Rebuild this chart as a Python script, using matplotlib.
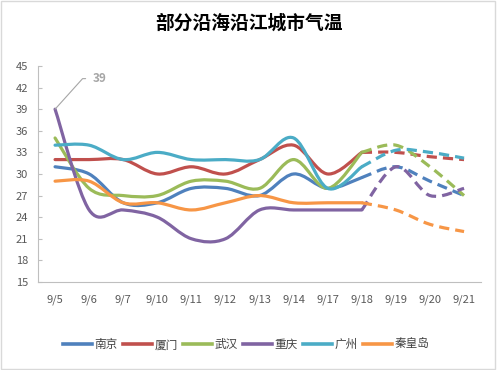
import matplotlib
matplotlib.use("Agg")
import matplotlib.pyplot as plt
from matplotlib.path import Path
from matplotlib.patches import PathPatch, Rectangle
from matplotlib.lines import Line2D

plt.rcParams['font.family'] = ['Noto Sans CJK SC', 'DejaVu Sans']

dates = ['9/5', '9/6', '9/7', '9/10', '9/11', '9/12', '9/13', '9/14',
         '9/17', '9/18', '9/19', '9/20', '9/21']
cities = ['南京', '厦门', '武汉', '重庆', '广州', '秦皇岛']
colors = ['#4F81BD', '#C0504D', '#9BBB59', '#8064A2', '#4BACC6', '#F79646']

# observed 9/5 .. 9/18
nanjing_obs = [31, 30, 26, 26, 28, 28, 27, 30, 28, 29.5]
xiamen_obs = [32, 32, 32, 30, 31, 30, 32, 34, 30, 33]
wuhan_obs = [35, 28, 27, 27, 29, 29, 28, 32, 28, 33]
chongqing_obs = [39, 25, 25, 24, 21, 21, 25, 25, 25, 25]
guangzhou_obs = [34, 34, 32, 33, 32, 32, 32, 35, 28, 31]
qhd_obs = [29, 29, 26, 26, 25, 26, 27, 26, 26, 26]

# forecast 9/18 .. 9/21
nanjing_fc = [29.5, 31, 29, 27]
xiamen_fc = [33, 33, 32.4, 32]
wuhan_fc = [33, 34, 31, 27]
chongqing_fc = [25, 31, 27, 28]
guangzhou_fc = [31, 33.3, 33, 32.2]
qhd_fc = [26, 25, 23, 22]

obs = [nanjing_obs, xiamen_obs, wuhan_obs, chongqing_obs, guangzhou_obs, qhd_obs]
fc = [nanjing_fc, xiamen_fc, wuhan_fc, chongqing_fc, guangzhou_fc, qhd_fc]

yticks = list(range(15, 46, 3))


def smooth_path(xs, ys):
    n = len(xs)
    verts = [(xs[0], ys[0])]
    codes = [Path.MOVETO]
    for i in range(n - 1):
        a = i - 1 if i > 0 else i
        d = i + 2 if i + 2 < n else i + 1
        c1 = (xs[i] + (xs[i + 1] - xs[a]) / 6.0, ys[i] + (ys[i + 1] - ys[a]) / 6.0)
        c2 = (xs[i + 1] - (xs[d] - xs[i]) / 6.0, ys[i + 1] - (ys[d] - ys[i]) / 6.0)
        verts += [c1, c2, (xs[i + 1], ys[i + 1])]
        codes += [Path.CURVE4, Path.CURVE4, Path.CURVE4]
    return Path(verts, codes)


fig = plt.figure(figsize=(4.97, 3.70), dpi=100)
ax = fig.add_axes([0.0765, 0.238, 0.8915, 0.5836])
ax.set_xlim(-0.5, len(dates) - 0.5)
ax.set_ylim(15, 45)

lw = 2.3
for vals, c in zip(obs, colors):
    xs = list(range(len(vals)))
    ax.add_patch(PathPatch(smooth_path(xs, vals), fill=False, edgecolor=c,
                           lw=lw, capstyle='round', joinstyle='round', zorder=3))
for vals, c in zip(fc, colors):
    start = len(dates) - len(vals)
    xs = list(range(start, start + len(vals)))
    ax.add_patch(PathPatch(smooth_path(xs, vals), fill=False, edgecolor=c,
                           lw=lw, linestyle=(0, (3.2, 1.9)), capstyle='butt',
                           joinstyle='round', zorder=3))

# data label for the peak
ax.annotate(f"{chongqing_obs[0]}", xy=(0, chongqing_obs[0]), xycoords='data',
            xytext=(27, 22), textcoords='offset points', fontsize=8.5,
            fontweight='bold', color='#A6A6A6', va='center', ha='left',
            arrowprops=dict(arrowstyle='-', color='#A6A6A6', lw=0.8,
                            shrinkA=3, shrinkB=0, relpos=(0, 0.5),
                            connectionstyle='angle,angleA=0,angleB=48,rad=0'))

ax.set_xticks(range(len(dates)))
ax.set_xticklabels(dates)
ax.set_yticks(yticks)
ax.tick_params(axis='x', length=0, pad=9, labelsize=8, labelcolor='#595959')
ax.tick_params(axis='y', direction='in', length=3, width=0.8, color='#BFBFBF',
               pad=7, labelsize=8, labelcolor='#595959')
for s in ['top', 'right']:
    ax.spines[s].set_visible(False)
ax.spines['left'].set_color('#BFBFBF')
ax.spines['left'].set_linewidth(0.8)
ax.spines['bottom'].set_color('#BFBFBF')
ax.spines['bottom'].set_linewidth(0.8)
ax.spines['bottom'].set_linestyle((0, (1.5, 1)))

fig.text(0.501, 0.938, '部分沿海沿江城市气温', ha='center', va='center',
         fontsize=13.5, fontweight='bold', color='#000000')

handles = [Line2D([0], [0], color=c, lw=2.6) for c in colors]
fig.legend(handles, cities, loc='center', bbox_to_anchor=(0.495, 0.068),
           ncol=6, frameon=False, fontsize=8.4, handlelength=2.55,
           handletextpad=0.2, columnspacing=0.4, labelcolor='#404040')

fig.add_artist(Rectangle((0.002, 0.003), 0.994, 0.994, transform=fig.transFigure,
                         fill=False, edgecolor='#D9D9D9', lw=1.0))

fig.savefig('out.png', dpi=100)
